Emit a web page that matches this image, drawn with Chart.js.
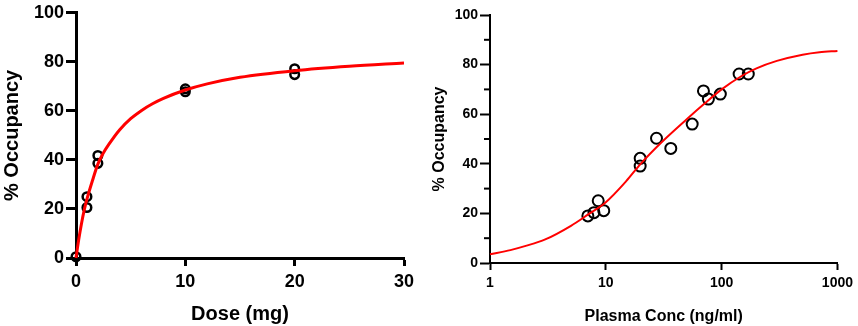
<!DOCTYPE html>
<html>
<head>
<meta charset="utf-8">
<script src="https://cdn.jsdelivr.net/npm/chart.js@4"></script>
<style>
  html, body { margin: 0; padding: 0; background: #fff; }
  body { width: 858px; height: 326px; position: relative; overflow: hidden; }
  #left { position: absolute; left: 0; top: 0; }
  #right { position: absolute; left: 430px; top: 0; }
</style>
</head>
<body>
<canvas id="left" width="430" height="326"></canvas>
<canvas id="right" width="428" height="326"></canvas>
<script>
// ---- Left panel: dose vs occupancy ----
const doseValues = [0, 1, 1, 2, 2, 10, 10, 20, 20];
const doseOccupancy = [0.5, 25, 20.6, 41.8, 38.6, 69, 67.8, 77.2, 74.8];
const doseFitX = [0, 0.25, 0.5, 0.75, 1, 1.5, 2, 2.5, 3, 4, 5, 6, 7, 8, 10, 12, 15, 20, 25, 30];
const doseFitY = [0, 7.5, 14, 19.5, 24, 31.5, 38.3, 42.8, 46.3, 52.3, 56.8, 60.2, 62.9, 65.1, 68.5, 71, 73.7, 76.4, 78.2, 79.5];
const doseTicks = [0, 10, 20, 30];
const occTicksLeft = [0, 20, 40, 60, 80, 100];

// ---- Right panel: plasma concentration vs occupancy ----
const concValues = [7.0, 7.9, 8.6, 9.6, 19.8, 19.8, 27.4, 36.4, 55.7, 69.7, 76.9, 97.5, 141.6, 170];
const concOccupancy = [19.0, 20.3, 25.1, 21.1, 42.2, 39.1, 50.3, 46.2, 56.0, 69.4, 66.1, 68.1, 76.2, 76.2];
const concFitX = [1, 1.5, 2, 3, 5, 7, 10, 15, 20, 30, 50, 70, 100, 150, 200, 300, 500, 700, 1000];
const concFitY = [3.5, 5.2, 6.8, 9.5, 15, 19.5, 24.5, 33, 40, 48.5, 58, 64, 70, 75.5, 78.5, 81.5, 84, 85, 85.5];
const concTicks = [1, 10, 100, 1000];
const occTicksRight = [0, 20, 40, 60, 80, 100];
const occMinorRight = [10, 30, 50, 70, 90];

const FONT = "'Liberation Sans', Arial, sans-serif";
Chart.defaults.font.family = FONT;
Chart.defaults.color = '#000';

function pts(xs, ys) { return xs.map((x, i) => ({ x: x, y: ys[i] })); }

new Chart(document.getElementById('left'), {
  type: 'scatter',
  data: {
    datasets: [
      {
        data: pts(doseValues, doseOccupancy),
        pointStyle: 'circle', pointRadius: 4.3, pointBorderWidth: 2.5,
        pointBorderColor: '#000', pointBackgroundColor: 'rgba(0,0,0,0)',
        showLine: false, clip: false, order: 2
      },
      {
        data: pts(doseFitX, doseFitY),
        showLine: true, borderColor: '#ff0000', borderWidth: 3,
        pointRadius: 0, cubicInterpolationMode: 'monotone', clip: false, order: 1
      }
    ]
  },
  options: {
    responsive: false, animation: false,
    layout: { padding: { top: 9, right: 26, left: 0, bottom: 0 } },
    plugins: { legend: { display: false }, tooltip: { enabled: false } },
    scales: {
      x: {
        type: 'linear', min: 0, max: 30,
        afterBuildTicks: s => { s.ticks = doseTicks.map(v => ({ value: v })); },
        ticks: { font: { size: 18, weight: 'bold' }, color: '#000', padding: 5, maxRotation: 0 },
        grid: { drawOnChartArea: false, drawTicks: true, tickLength: 8, tickWidth: 3, tickColor: '#000' },
        border: { display: true, color: '#000', width: 3 },
        title: { display: true, text: 'Dose (mg)', font: { size: 20, weight: 'bold' }, color: '#000', padding: { top: 10, bottom: 0 } },
        afterFit: s => { s.height = 68; }
      },
      y: {
        type: 'linear', min: 0, max: 100,
        afterBuildTicks: s => { s.ticks = occTicksLeft.map(v => ({ value: v })); },
        ticks: { font: { size: 18, weight: 'bold' }, color: '#000', padding: 2 },
        grid: { drawOnChartArea: false, drawTicks: true, tickLength: 10, tickWidth: 3, tickColor: '#000' },
        border: { display: true, color: '#000', width: 3 },
        title: { display: true, text: '% Occupancy', font: { size: 20, weight: 'bold' }, color: '#000', padding: 0 },
        afterFit: s => { s.width = 76; }
      }
    }
  }
});

const minorTickPlugin = {
  id: 'minorTicks',
  afterDraw(chart) {
    const s = chart.scales.y;
    const ctx = chart.ctx;
    ctx.save();
    ctx.strokeStyle = '#000';
    ctx.lineWidth = 2;
    occMinorRight.forEach(v => {
      const y = s.getPixelForValue(v);
      ctx.beginPath();
      ctx.moveTo(s.right - 6, y);
      ctx.lineTo(s.right, y);
      ctx.stroke();
    });
    ctx.restore();
  }
};

new Chart(document.getElementById('right'), {
  type: 'scatter',
  data: {
    datasets: [
      {
        data: pts(concValues, concOccupancy),
        pointStyle: 'circle', pointRadius: 5.5, pointBorderWidth: 2,
        pointBorderColor: '#000', pointBackgroundColor: 'rgba(0,0,0,0)',
        showLine: false, clip: false, order: 2
      },
      {
        data: pts(concFitX, concFitY),
        showLine: true, borderColor: '#ff0000', borderWidth: 2,
        pointRadius: 0, cubicInterpolationMode: 'monotone', clip: false, order: 1
      }
    ]
  },
  options: {
    responsive: false, animation: false,
    layout: { padding: { top: 15, right: 17, left: 0, bottom: 0 } },
    plugins: { legend: { display: false }, tooltip: { enabled: false } },
    scales: {
      x: {
        type: 'logarithmic', min: 1, max: 1000,
        afterBuildTicks: s => { s.ticks = concTicks.map(v => ({ value: v })); },
        ticks: { font: { size: 14, weight: 'bold' }, color: '#000', padding: 5, maxRotation: 0, callback: v => String(v) },
        grid: { drawOnChartArea: false, drawTicks: true, tickLength: 7, tickWidth: 2, tickColor: '#000' },
        border: { display: true, color: '#000', width: 2 },
        title: { display: true, text: 'Plasma Conc (ng/ml)', font: { size: 16, weight: 'bold' }, color: '#000', padding: { top: 9, bottom: 0 } },
        afterFit: s => { s.height = 63; }
      },
      y: {
        type: 'linear', min: 0, max: 100,
        afterBuildTicks: s => { s.ticks = occTicksRight.map(v => ({ value: v })); },
        ticks: { font: { size: 14, weight: 'bold' }, color: '#000', padding: 2 },
        grid: { drawOnChartArea: false, drawTicks: true, tickLength: 10, tickWidth: 2, tickColor: '#000' },
        border: { display: true, color: '#000', width: 2 },
        title: { display: true, text: '% Occupancy', font: { size: 16, weight: 'bold' }, color: '#000', padding: 0 },
        afterFit: s => { s.width = 60; }
      }
    }
  },
  plugins: [minorTickPlugin]
});
</script>
</body>
</html>
